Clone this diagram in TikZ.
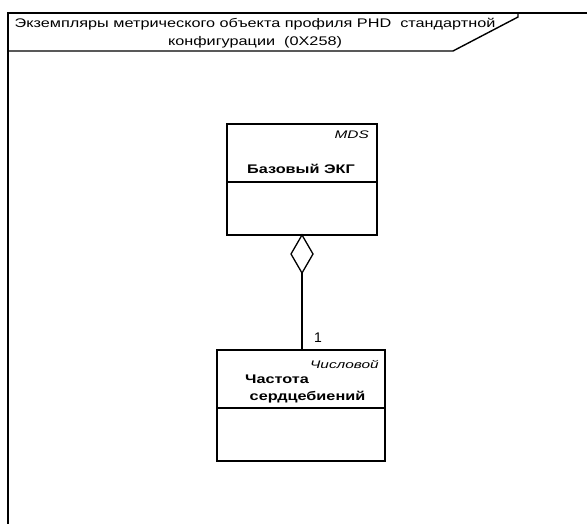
\documentclass[tikz,border=0pt]{standalone}
\usepackage{fontspec}
\setmainfont{Liberation Sans}
\newfontfamily\widefont[FakeStretch=1.3]{Liberation Sans}
\newfontfamily\widerfont[FakeStretch=1.4]{Liberation Sans}
\begin{document}
\begin{tikzpicture}[x=1pt,y=-1pt,
  frameline/.style={line width=1.4pt,black},
  boxline/.style={line width=1.3pt,black},
  titletext/.style={font=\widefont\fontsize{12.5}{18}\selectfont,align=center,inner sep=0pt},
  stereo/.style={font=\widerfont\fontsize{11}{13}\selectfont\itshape,inner sep=0pt},
  cname/.style={font=\widefont\fontsize{12.5}{17}\selectfont\bfseries,inner sep=0pt},
  mult/.style={font=\fontsize{14}{16}\selectfont,inner sep=0pt}]
\useasboundingbox (0,0) rectangle (587,524);
% frame
\coordinate (ftl) at (8,13);
\coordinate (ftr) at (587,13);
\coordinate (fbl) at (8,524);
\draw[frameline] (fbl) -- (ftl) -- (ftr);
\draw[frameline] (8,51) -- (453,51) -- (518,17) -- (518,13);
\node[titletext] (title) at (255,33) {Экземпляры метрического объекта профиля PHD\ \ стандартной\\конфигурации\ \ (0X258)};
% upper class box
\draw[boxline] (227,124) rectangle (377,235);
\draw[boxline] (227,182) -- (377,182);
\node[stereo,anchor=east] (mds) at (369,135) {MDS};
\node[cname] (ecg) at (301,169) {Базовый ЭКГ};
\coordinate (dtop) at (302,235);
% lower class box
\draw[boxline] (217,350) rectangle (385,461);
\draw[boxline] (217,408) -- (385,408);
\node[stereo,anchor=east] (num) at (379,364) {Числовой};
\node[cname,anchor=west,align=left] (hr) at (245,389) {Частота\\\ сердцебиений};
\coordinate (hrtop) at (302,350);
% aggregation diamond
\coordinate (dright) at (313,254);
\coordinate (dbot) at (302,273);
\coordinate (dleft) at (291,254);
\draw[boxline,line join=miter] (dtop) -- (dright) -- (dbot) -- (dleft) -- cycle;
\draw[boxline] (dbot) -- (hrtop);
\node[mult] (one) at (318,338) {1};
\end{tikzpicture}
\end{document}
